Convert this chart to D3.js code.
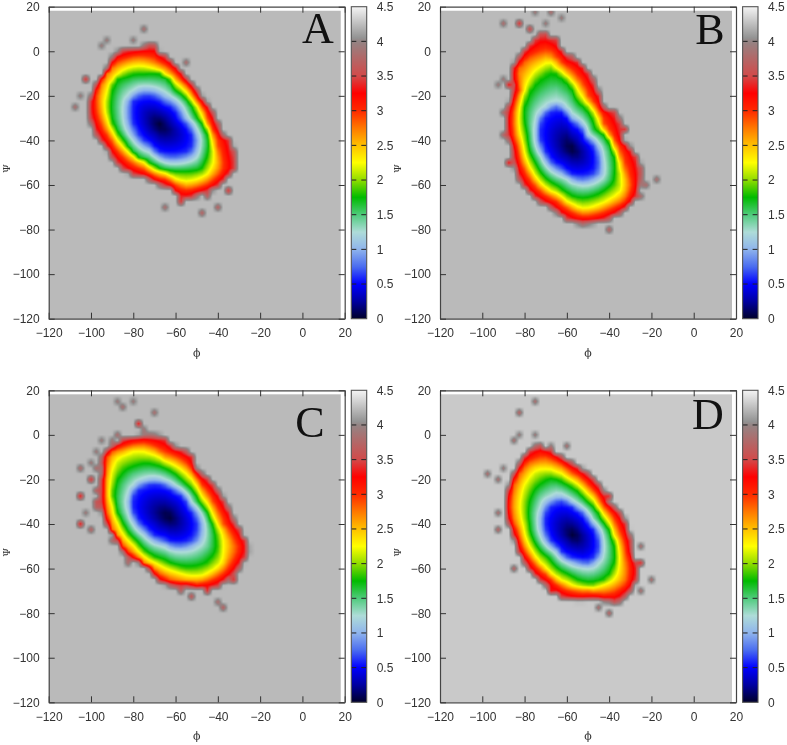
<!DOCTYPE html>
<html>
<head>
<meta charset="utf-8">
<script src="https://cdnjs.cloudflare.com/ajax/libs/d3/7.8.5/d3.min.js"></script>
<style>
  html, body { margin: 0; padding: 0; background: #fff; }
  #page { position: relative; width: 787px; height: 745px; overflow: hidden; }
  canvas, svg { position: absolute; left: 0; top: 0; }
  svg { filter: blur(0.3px); }
  text { font-family: "Liberation Sans", Arial, sans-serif; }
</style>
</head>
<body>
<div id="page"></div>
<script>
// axis ticks, as printed
const phiTicks = [-120, -100, -80, -60, -40, -20, 0, 20];
const psiTicks = [-120, -100, -80, -60, -40, -20, 0, 20];
const energyTicks = [0, 0.5, 1, 1.5, 2, 2.5, 3, 3.5, 4, 4.5];

// colour box of the palette
const paletteValues = [0, 0.25, 0.5, 0.75, 1, 1.25, 1.5, 1.75, 2, 2.25, 2.5, 2.75, 3, 3.25, 3.5, 4, 4.05, 4.5];
const paletteColors = ["#00002a", "#0000a0", "#0000ff", "#4a6cf0", "#8fb4ec", "#aedcd8", "#4fcb7c", "#00bb00", "#90dc00", "#ffff00", "#ffc000", "#ff7800", "#ff2a00", "#ff0000", "#d24a4a", "#948484", "#939393", "#f4f4f4"];

// energy of the level each outline below was traced at
const levels = [0.6, 1.2, 1.8, 2.25, 2.85, 3.5];

// panel A, basin minimum and outlines as [phi, psi]
const minimumA = [-67.3, -33.1];
const backgroundA = 4.23;
const outlinesA = [
  [[-76,-20.4],[-65.8,-23.4],[-57.9,-30.9],[-51.6,-39.8],[-53.2,-44.3],[-61,-46.6],[-72.1,-41.3],[-78.4,-35.3],[-80.7,-27.9],[-80,-21.9]],
  [[-76.8,-16.2],[-64.2,-19.6],[-54.7,-29.4],[-48.4,-39.8],[-50,-47.3],[-59.5,-50.3],[-72.1,-45.1],[-80,-39.8],[-84.4,-29.4],[-83.9,-21.9]],
  [[-64.2,-10.7],[-60,-17.4],[-50,-29.4],[-43.7,-41.3],[-47.6,-53.3],[-57.9,-54],[-72.1,-50.3],[-84.7,-39.8],[-91,-27.9],[-88.6,-12.9],[-75.2,-9.9]],
  [[-86.3,-9.2],[-80,-6.6],[-70.5,-7.7],[-61,-13.7],[-53.2,-21.1],[-46.8,-30.9],[-42.9,-41.3],[-42.1,-50.3],[-45.3,-55.5],[-54.7,-58.5],[-64.2,-54.8],[-75.2,-49.5],[-83.9,-43.6],[-90.2,-35.3],[-93.4,-23.4],[-91.8,-15.9]],
  [[-89.4,-6.2],[-76.8,-2.4],[-67.3,-5.4],[-57.9,-12.9],[-50,-21.9],[-44.5,-32.3],[-40.5,-42.8],[-38.2,-53.3],[-45.3,-59.3],[-54.7,-61.5],[-64.2,-57],[-75.2,-52.5],[-83.9,-47.3],[-91,-38.3],[-96.5,-27.9],[-97.3,-18.9],[-94.1,-11.4]],
  [[-68.9,2.8],[-68.1,-0.9],[-61,-5.4],[-54.7,-12.9],[-48.4,-20.4],[-42.1,-28.6],[-39,-36.8],[-34.2,-39.8],[-31.9,-53.3],[-34.2,-54.8],[-40.5,-60.8],[-48.4,-63.8],[-57.1,-66.7],[-62.6,-60.8],[-73.6,-56.3],[-83.9,-53.3],[-92.6,-42.8],[-98.9,-34.6],[-100.5,-23.4],[-97,-14.4],[-93,-9.9],[-88.5,-1],[-78.4,1]]
];
// isolated sampled bins as [phi, psi, energy]
const specksA = [[-75.2,9.1,3.8],[-81.2,6.2,3.9],[-92.9,6.2,3.9],[-96.2,3.2,3.9],[-54.3,-5.7,3.8],[-108.3,-24.1,3.8],[-105.2,-19.6,3.9],[-102,-13.7,3.4],[-66.2,-69,3.8],[-48.4,-72,3.7],[-39.4,-69,3.7],[-36.1,-62.7,3.4],[-81.2,-54,3.8],[-45.3,-65.3,3.7],[-54.7,-65.3,3.4],[-57,-67.5,3.4],[-35,-52.5,3.2],[-98,-33.1,3.4],[-92.6,-41.3,3.5],[-72.9,-56.3,3.7]];

// panel B
const minimumB = [-57.7, -43.6];
const backgroundB = 4.23;
const outlinesB = [
  [[-67.1,-26.4],[-64,-25.6],[-57.7,-32.3],[-51.3,-39.8],[-45.8,-48.8],[-46.6,-54],[-52.9,-56.2],[-62.4,-51.8],[-70.3,-44.3],[-72.7,-36.8],[-71.1,-29.4]],
  [[-68.7,-24.1],[-64,-22.6],[-57.7,-28.6],[-49.8,-37.6],[-42.7,-48.8],[-42.7,-56.2],[-51.3,-60],[-60.8,-56.2],[-71.9,-47.3],[-75.3,-36.8],[-73.4,-27.9]],
  [[-75.8,-15.1],[-67.1,-8.7],[-59.2,-13.7],[-55.3,-21.9],[-46.6,-34.6],[-37.1,-48.8],[-37.9,-59.3],[-45,-64.5],[-53.7,-66.4],[-64,-60.8],[-75,-50.3],[-79,-36.8],[-80.5,-24.8]],
  [[-75.8,-9.2],[-71.1,-6],[-67.9,-4],[-64.8,-7.7],[-57.7,-13.7],[-52.1,-21.9],[-44.2,-34],[-38.7,-42.8],[-34.8,-53.3],[-34,-62.3],[-40.3,-66.7],[-52.1,-70.5],[-63.2,-64.5],[-76.6,-53.3],[-80.5,-41.3],[-82.6,-29.4],[-79.8,-17.4]],
  [[-78,-3],[-68,0],[-63.2,-5.4],[-56.1,-10.7],[-49.8,-21.1],[-42.7,-33.2],[-38.7,-38.3],[-34,-48.8],[-30,-60.8],[-32.4,-66.7],[-40.3,-70.5],[-52.9,-73.5],[-64,-66.7],[-78.2,-55.5],[-82.9,-42.8],[-85.3,-29.4],[-82.1,-17.4],[-83.7,-8.4]],
  [[-80,0],[-72.7,8],[-64,5],[-61.6,-1.7],[-54.5,-3.9],[-46.6,-15.1],[-43.5,-25],[-36.4,-28],[-34,-39.8],[-25.3,-51],[-26.9,-65.3],[-32.4,-70.5],[-40.3,-75],[-56.9,-76.5],[-67.1,-69.8],[-82.1,-57.8],[-85.3,-44.3],[-88.4,-32.3],[-84.5,-17.4],[-86.1,-8.4]]
];
const specksB = [[-75,17.8,3.9],[-67.9,17.8,3.8],[-63.2,15.2,3.9],[-90.3,12.2,3.8],[-81.3,12.2,3.4],[-69.5,12.2,3.9],[-78.2,8.8,3.5],[-90,-12.2,3.9],[-93.2,-15.1,3.9],[-86.9,-15.1,3.3],[-90,-27.1,3.8],[-89.2,-37.6,3.75],[-86.9,-51,3.3],[-80.5,-60.8,3.9],[-33.2,-36,3.4],[-18.2,-57,3.8],[-22.9,-60,3.8],[-25.3,-66,3.8],[-39.5,-72.7,3.8],[-51.3,-78,3.8],[-39,-81,3.7],[-56.9,-75,3.4]];

// panel C
const minimumC = [-63.4, -36.7];
const backgroundC = 4.23;
const outlinesC = [
  [[-76.8,-24],[-68.9,-22.5],[-61,-25.5],[-53.9,-33],[-50,-41.2],[-51.6,-46.4],[-57.1,-48.7],[-65.7,-46.4],[-73.6,-41.9],[-78.4,-37.4],[-80.7,-30.7],[-79.2,-26.2]],
  [[-77.6,-20.7],[-69.8,-19.2],[-61,-22.5],[-52.4,-30.7],[-46.1,-41.2],[-47.6,-48.7],[-56.3,-52.1],[-65.7,-49.7],[-75.2,-44.9],[-80.7,-38.9],[-83.1,-30.7],[-81.8,-24.7]],
  [[-83.9,-15],[-75.2,-12.3],[-65.7,-14.3],[-56.3,-21],[-48.4,-30.7],[-42.1,-41.2],[-40.5,-52.4],[-46.1,-58.4],[-54.7,-59.6],[-65.7,-56.1],[-78.4,-47.9],[-85.5,-38.9],[-89.8,-27],[-87.8,-19.5]],
  [[-88.6,-11.3],[-81.5,-7.8],[-73.6,-7.8],[-64.9,-12],[-56.3,-16.5],[-48.4,-27],[-42.1,-37.4],[-37.4,-49.4],[-38.2,-57.6],[-48.4,-63.6],[-59.5,-61.4],[-69,-57.6],[-80,-49.4],[-87.1,-40.4],[-90.2,-30.7],[-90.7,-19.5]],
  [[-91.8,-8.3],[-83.1,-5.3],[-75.2,-3.8],[-65.7,-8.3],[-55.5,-12.8],[-48.4,-22.5],[-42.1,-31.5],[-37.4,-40.4],[-31.1,-50.9],[-37.4,-61.4],[-48.4,-66.6],[-59.5,-65.9],[-69,-61.4],[-78.4,-54.6],[-87.8,-46.4],[-92.6,-34.4],[-93.8,-22.5],[-92.6,-13.5]],
  [[-95,-10],[-88,-4],[-84,-2],[-76.8,-0.8],[-65.7,-1],[-61.8,-5.3],[-53.9,-8.3],[-50,-16.5],[-41.3,-24],[-35.8,-32.2],[-31.9,-40.4],[-25.2,-50.9],[-31.5,-61.4],[-40.2,-68],[-54.4,-67.5],[-67,-66],[-73.6,-57.6],[-82.2,-55],[-88,-46],[-94,-36],[-95,-25],[-94.5,-17]]
];
const specksC = [[-87.5,15.2,3.9],[-81.2,15.2,3.9],[-83.9,11.9,3.8],[-78.4,5.9,3.3],[-69.6,8.9,3.8],[-75.2,2.9,3.9],[-105.7,-15,3.75],[-99.2,-21,3.4],[-105.7,-27,3.3],[-105.7,-38.9,3.3],[-99.2,-42.2,3.7],[-101.7,-35.9,3.9],[-81.5,-57.6,3.8],[-58.4,-69.6,3.7],[-52.1,-71.8,3.6],[-44.2,-70.3,3.4],[-31.5,-66.2,3.4],[-40.2,-75.6,3.8],[-37.4,-78.1,3.7],[-53.3,-9,3.4],[-34.8,-41.9,3.4],[-38,-33,3.8],[-91,-43.4,3.8],[-98,-8,3.9],[-95,-3,3.9],[-100,-13,3.9],[-88,0,3.8],[-90,-2,3.9],[-97,-16,3.8],[-98,-25,3.7],[-97,-30,3.6],[-97,-33,3.7],[-91,-48,3.8],[-83,-52,3.7]];

// panel D
const minimumD = [-56.9, -44.9];
const backgroundD = 4.3;
const outlinesD = [
  [[-67.9,-32.2],[-63.2,-30.3],[-56.1,-33.7],[-49.8,-40.4],[-45.3,-48.7],[-45.8,-53.1],[-49.8,-56.6],[-56.1,-55.4],[-64,-50.1],[-69.5,-43.4],[-70.3,-36.7]],
  [[-71.1,-30],[-64,-26.7],[-56.1,-30.7],[-48.2,-38.2],[-42.7,-48.7],[-43.5,-55.4],[-48.2,-59.6],[-56.1,-58.4],[-65.5,-52.4],[-72.7,-44.2],[-73.4,-36.7]],
  [[-75,-23.2],[-67.9,-18.7],[-59.2,-22.5],[-51.3,-29.2],[-43.5,-38.2],[-37.9,-47.9],[-37.1,-56.9],[-40.3,-63.6],[-48.2,-67],[-59.2,-62.9],[-68.7,-55.4],[-75.8,-47.9],[-78.2,-38.9],[-78.2,-30]],
  [[-75,-15.7],[-67.1,-15.7],[-59.2,-19.5],[-51.3,-25.5],[-44.2,-34.4],[-37.9,-44.9],[-35.2,-53.9],[-37.1,-64.4],[-43.5,-67.6],[-51.3,-68.8],[-60.8,-65.9],[-70.3,-59.1],[-76.6,-51.6],[-80.5,-40.4],[-82.1,-30.7],[-79.8,-21.7]],
  [[-79,-12.8],[-71.1,-10.2],[-64,-12.8],[-57.7,-17.2],[-49.8,-23.2],[-43.5,-31.5],[-36.4,-41.9],[-32.4,-53.9],[-31.6,-65.9],[-38.7,-70.3],[-49.8,-70.3],[-60.8,-68.8],[-68.7,-62.9],[-76.6,-56.1],[-82.9,-43.4],[-86.9,-33],[-84.5,-21]],
  [[-79,-8.3],[-73.4,-4.5],[-65.5,-8.3],[-60.8,-11.3],[-52.9,-15.7],[-46.6,-21],[-40.3,-30.7],[-32.4,-38.9],[-30,-52.4],[-26.1,-61.4],[-29.2,-68.8],[-35.6,-74.8],[-46.6,-73.3],[-62.4,-72.6],[-70.3,-66.6],[-79,-58.4],[-84.5,-46.4],[-88.4,-34.4],[-86.9,-22.5],[-82.1,-12.8]]
];
const specksD = [[-75,14.9,3.8],[-81.3,8.9,3.7],[-75,0,3.9],[-83.7,0,3.9],[-84.5,-3,3.8],[-60,-5.7,3.8],[-67.9,-5.3,3.9],[-96.3,-17.7,3.8],[-93.2,-21,3.8],[-89.2,-15,3.9],[-93.2,-36,3.8],[-93.2,-41.9,3.7],[-84.2,-59.9,3.7],[-39,-27,3.4],[-24.2,-50.9,3.8],[-24.5,-57.2,3.4],[-21,-66.1,3.8],[-24.5,-68.8,3.8],[-45,-78.1,3.8],[-39,-80.8,3.7],[-66.3,-68.8,3.3],[-62.4,-70.3,3.8],[-35.6,-74.8,3.8]];

const panelNames = ["A", "B", "C", "D"];
const minima = [minimumA, minimumB, minimumC, minimumD];
const backgrounds = [backgroundA, backgroundB, backgroundC, backgroundD];
const outlineSets = [outlinesA, outlinesB, outlinesC, outlinesD];
const speckSets = [specksA, specksB, specksC, specksD];

// layout
const plotW = 296, plotH = 312;
const originX = [48.7, 440, 48.7, 440];
const originY = [6.7, 6.7, 390.3, 390.3];
const letterPos = [[318, 43], [710, 44], [310, 437], [708, 429]];
const dataEnd = 18;   // the map stops here, the frame goes on to 20
const binSize = 2.5;  // histogram bin of the map, degrees

const color = d3.scaleLinear().domain(paletteValues).range(paletteColors).interpolate(d3.interpolateRgb);
const lut = d3.range(0, 1001).map(i => d3.rgb(color(i * 4.5 / 1000)));

// radius of an outline for every whole degree of angle around the minimum
function radiusTable(outline, center) {
  const polar = outline.map(p => {
    const dx = p[0] - center[0], dy = p[1] - center[1];
    return [(Math.atan2(dy, dx) * 180 / Math.PI + 360) % 360, Math.hypot(dx, dy)];
  }).sort((a, b) => a[0] - b[0]);
  const first = polar[0], last = polar[polar.length - 1];
  const closed = [[last[0] - 360, last[1]], ...polar, [first[0] + 360, first[1]]];
  const r = d3.scaleLinear().domain(closed.map(d => d[0])).range(closed.map(d => d[1]));
  const raw = d3.range(360).map(a => r(a));
  return raw.map((_, a) => d3.mean(d3.range(-2, 3), k => raw[(a + k + 360) % 360]));
}

// value of every bin from the outlines and the specks
function binGrid(i) {
  const center = minima[i], bg = backgrounds[i];
  const tables = outlineSets[i].map(o => radiusTable(o, center));
  const vs = [0, ...levels, bg];
  const n = Math.ceil(140 / binSize) + 1;
  const grid = d3.range(n).map(row => d3.range(n).map(col => {
    const dx = -120 + col * binSize - center[0], dy = -120 + row * binSize - center[1];
    const r = Math.hypot(dx, dy);
    const a = Math.round((Math.atan2(dy, dx) * 180 / Math.PI + 360)) % 360;
    const rs = [0];
    tables.forEach((t, l) => rs.push(Math.max(t[a], rs[l] + 0.2)));
    rs.push(rs[rs.length - 1] + 1);
    for (let l = 0; l < rs.length - 1; l++) {
      if (r <= rs[l + 1]) return vs[l] + (vs[l + 1] - vs[l]) * (r - rs[l]) / (rs[l + 1] - rs[l]);
    }
    return bg;
  }));
  speckSets[i].forEach(s => {
    const col = Math.round((s[0] + 120) / binSize), row = Math.round((s[1] + 120) / binSize);
    grid[row][col] = Math.min(grid[row][col], s[2]);
  });
  return grid;
}

function drawMap(ctx, i, x, y) {
  const grid = binGrid(i);
  const img = ctx.createImageData(plotW, plotH);
  for (let py = 0; py < plotH; py++) {
    const psi = y.invert(py + 0.5);
    for (let px = 0; px < plotW; px++) {
      const phi = x.invert(px + 0.5);
      if (phi > dataEnd || psi > dataEnd) continue;
      const fx = (phi + 120) / binSize, fy = (psi + 120) / binSize;
      const c0 = Math.floor(fx), r0 = Math.floor(fy), tx = fx - c0, ty = fy - r0;
      const v = (grid[r0][c0] * (1 - tx) + grid[r0][c0 + 1] * tx) * (1 - ty)
              + (grid[r0 + 1][c0] * (1 - tx) + grid[r0 + 1][c0 + 1] * tx) * ty;
      const c = lut[Math.max(0, Math.min(1000, Math.round(v / 4.5 * 1000)))];
      const k = (py * plotW + px) * 4;
      img.data[k] = c.r; img.data[k + 1] = c.g; img.data[k + 2] = c.b; img.data[k + 3] = 255;
    }
  }
  ctx.putImageData(img, 0, 0);
}

const page = d3.select("#page");
const canvas = page.append("canvas").attr("width", 787).attr("height", 745);
const svg = page.append("svg").attr("width", 787).attr("height", 745);

const defs = svg.append("defs");
const grad = defs.append("linearGradient").attr("id", "cb").attr("x1", 0).attr("x2", 0).attr("y1", 1).attr("y2", 0);
grad.selectAll("stop").data(paletteValues).enter().append("stop")
  .attr("offset", d => d / 4.5)
  .attr("stop-color", d => color(d));

function styleAxis(g) {
  g.selectAll("path").attr("stroke", "#444").attr("stroke-width", 1.2);
  g.selectAll("line").attr("stroke", "#333").attr("stroke-width", 1);
  g.selectAll("text").attr("fill", "#333").attr("font-size", 12);
}

panelNames.forEach(function(name, i) {
  const x = d3.scaleLinear().domain([-120, 20]).range([0, plotW]);
  const y = d3.scaleLinear().domain([-120, 20]).range([plotH, 0]);

  const off = document.createElement("canvas");
  off.width = plotW; off.height = plotH;
  drawMap(off.getContext("2d"), i, x, y);
  const ctx = canvas.node().getContext("2d");
  ctx.filter = "blur(0.7px)";
  ctx.drawImage(off, originX[i], originY[i]);
  ctx.filter = "none";

  const g = svg.append("g").attr("transform", `translate(${originX[i]},${originY[i]})`);

  g.append("g").attr("transform", `translate(0,${plotH})`)
    .call(d3.axisBottom(x).tickValues(phiTicks).tickSize(-6).tickSizeOuter(0).tickPadding(10))
    .call(styleAxis);
  g.append("g")
    .call(d3.axisLeft(y).tickValues(psiTicks).tickSize(-6).tickSizeOuter(0).tickPadding(9))
    .call(styleAxis);
  g.append("g")
    .call(d3.axisTop(x).tickValues(phiTicks).tickSize(-6).tickSizeOuter(0).tickFormat(""))
    .call(styleAxis);
  g.append("g").attr("transform", `translate(${plotW},0)`)
    .call(d3.axisRight(y).tickValues(psiTicks).tickSize(-6).tickSizeOuter(0).tickFormat(""))
    .call(styleAxis);

  // colour bar
  const cbX = plotW + 6.6, cbW = 15.4;
  const cbScale = d3.scaleLinear().domain([0, 4.5]).range([plotH, 0]);
  const cb = g.append("g").attr("transform", `translate(${cbX},0)`);
  cb.append("rect").attr("width", cbW).attr("height", plotH).attr("fill", "url(#cb)");
  cb.append("g").selectAll("line").data(energyTicks.slice(1, -1)).enter().append("line")
    .attr("x1", 0).attr("x2", cbW)
    .attr("y1", d => cbScale(d)).attr("y2", d => cbScale(d))
    .attr("stroke", "#222").attr("stroke-width", 1).attr("stroke-dasharray", "5 5");
  cb.append("rect").attr("width", cbW).attr("height", plotH)
    .attr("fill", "none").attr("stroke", "#555").attr("stroke-width", 1.1);
  cb.append("g").attr("transform", `translate(${cbW},0)`)
    .call(d3.axisRight(cbScale).tickValues(energyTicks).tickSize(0).tickPadding(10).tickFormat(d => d))
    .call(g => g.select("path").remove())
    .call(g => g.selectAll("text").attr("fill", "#333").attr("font-size", 12));

  // axis names
  g.append("text").attr("x", plotW / 2).attr("y", plotH + 38).attr("text-anchor", "middle")
    .attr("font-size", 11).attr("fill", "#333").style("font-family", "'DejaVu Serif', serif").text("ϕ");
  g.append("text").attr("transform", `translate(${-39},${plotH / 2 + 6}) rotate(-90)`)
    .attr("text-anchor", "middle").attr("font-size", 10).attr("fill", "#333")
    .style("font-family", "'DejaVu Serif', serif").text("Ψ");

  // panel letter
  svg.append("text").attr("x", letterPos[i][0]).attr("y", letterPos[i][1]).attr("text-anchor", "middle")
    .attr("font-size", 44).attr("fill", "#111").style("font-family", "'Liberation Serif', serif").text(name);
});
</script>
</body>
</html>
